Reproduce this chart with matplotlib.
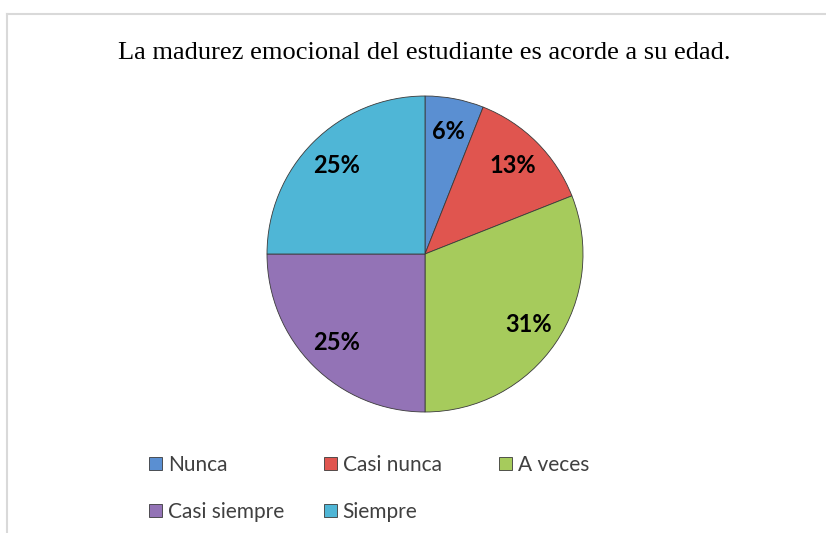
import matplotlib
matplotlib.use('Agg')
import matplotlib.pyplot as plt
from matplotlib.lines import Line2D

categories = ['Nunca', 'Casi nunca', 'A veces', 'Casi siempre', 'Siempre']
values = [6, 13, 31, 25, 25]
colors = ['#5a8fd2', '#e0554f', '#a6cb5c', '#9373b6', '#4fb6d6']
title = 'La madurez emocional del estudiante es acorde a su edad.'

fig = plt.figure(figsize=(8.26, 5.33), dpi=100)
W, H = 826, 533

# frame lines (top and left only, like the cropped chart box)
fig.add_artist(Line2D([7.5 / W, 1], [1 - 13.5 / H] * 2, color='#d9d9d9', lw=1.5))
fig.add_artist(Line2D([7.5 / W] * 2, [0, 1 - 13.5 / H], color='#d9d9d9', lw=1.5))

fig.text(424 / W, 1 - 53 / H, title, ha='center', va='center',
         family='Liberation Serif', fontsize=19, color='black')

cx, cy, r = 425, 254, 158
ax = fig.add_axes([(cx - r) / W, (H - cy - r) / H, 2 * r / W, 2 * r / H])
wedges, texts, autotexts = ax.pie(
    values, colors=colors, startangle=90, counterclock=False,
    autopct=lambda p: f'{p:.0f}%', pctdistance=0.79,
    wedgeprops=dict(edgecolor='#3a3a3a', linewidth=0.6),
    textprops=dict(family='Lato', fontsize=17, fontweight='bold', color='black'))
ax.set_xlim(-1, 1)
ax.set_ylim(-1, 1)
ax.set_aspect('equal')
ax.axis('off')

# legend, three columns placed like the Excel layout
cols = [[0, 3], [1, 4], [2]]
col_x = [149, 324, 499]
for idx, x in zip(cols, col_x):
    fig.legend([wedges[i] for i in idx], [categories[i] for i in idx],
               loc='upper left', bbox_to_anchor=(x / W, 1 - 455 / H),
               frameon=False, handlelength=0.6, handleheight=0.6,
               handletextpad=0.3, labelspacing=1.3, borderpad=0,
               borderaxespad=0, labelcolor='#404040',
               prop=dict(family='Lato', size=15))

fig.savefig('out.png', dpi=100)
